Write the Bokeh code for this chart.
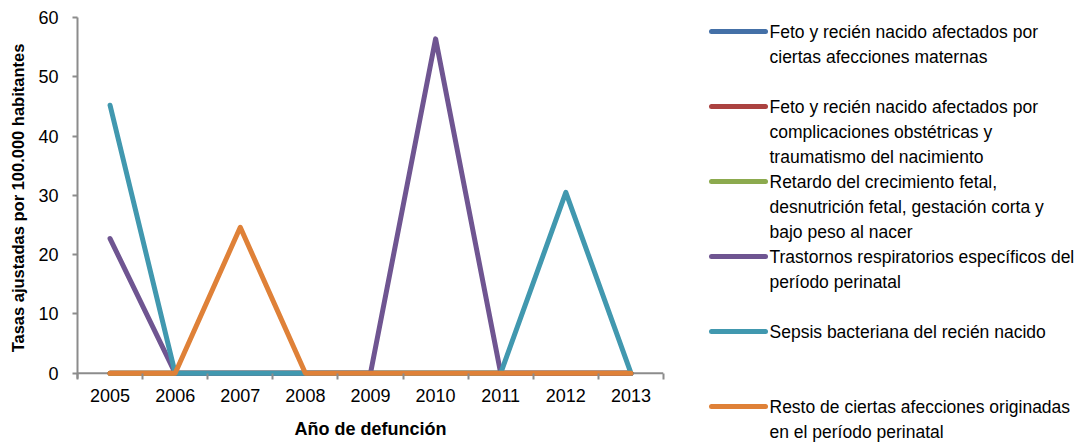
from bokeh.plotting import figure
from bokeh.layouts import row
from bokeh.models import Range1d, FixedTicker, ColumnDataSource, Span
from bokeh.core.properties import value
from bokeh.embed import file_html
from bokeh.resources import INLINE

# Tasas ajustadas por 100.000 habitantes, por año de defunción
years = [2005, 2006, 2007, 2008, 2009, 2010, 2011, 2012, 2013]
afecciones_maternas = [0, 0, 0, 0, 0, 0, 0, 0, 0]
complicaciones_obstetricas = [0, 0, 0, 0, 0, 0, 0, 0, 0]
retardo_crecimiento = [0, 0, 0, 0, 0, 0, 0, 0, 0]
trastornos_respiratorios = [22.7, 0, 0, 0, 0, 56.4, 0, 0, 0]
sepsis_bacteriana = [45.2, 0, 0, 0, 0, 0, 0, 30.5, 0]
resto_afecciones = [0, 0, 24.6, 0, 0, 0, 0, 0, 0]
y_ticks = [0, 10, 20, 30, 40, 50, 60]

series_labels = [
    "Feto y recién nacido afectados por\nciertas afecciones maternas",
    "Feto y recién nacido afectados por\ncomplicaciones obstétricas y\ntraumatismo del nacimiento",
    "Retardo del crecimiento fetal,\ndesnutrición fetal, gestación corta y\nbajo peso al nacer",
    "Trastornos respiratorios específicos del\nperíodo perinatal",
    "Sepsis bacteriana del recién nacido",
    "Resto de ciertas afecciones originadas\nen el período perinatal",
]
series_values = [afecciones_maternas, complicaciones_obstetricas, retardo_crecimiento,
                 trastornos_respiratorios, sepsis_bacteriana, resto_afecciones]
colors = ["#4470A7", "#AB4240", "#8CAA4E", "#6F5591", "#4198AF", "#DF8138"]

FONT = "Liberation Sans"
AXIS_COLOR = "#8C8C8C"

p = figure(width=690, height=442, output_backend="svg", toolbar_location=None,
           x_range=Range1d(2004.5, 2013.5), y_range=Range1d(-0.9, 60),
           min_border_left=77, min_border_right=27, min_border_top=17, min_border_bottom=64,
           frame_align=False)
p.outline_line_color = None
p.grid.grid_line_color = None
p.background_fill_color = "white"
p.border_fill_color = "white"

# horizontal axis line at zero, drawn beneath the series
p.add_layout(Span(location=0, dimension="width", line_color=AXIS_COLOR,
                  line_width=2, level="underlay"))

for vals, col in zip(series_values, colors):
    p.line(years, vals, line_color=col, line_width=5, line_cap="round", line_join="round")

boundaries = [y - 0.5 for y in years] + [years[-1] + 0.5]

xa = p.xaxis[0]
xa.ticker = FixedTicker(ticks=years, minor_ticks=boundaries)
xa.axis_line_color = None
xa.major_tick_out = 0
xa.major_tick_in = 0
xa.minor_tick_out = 1
xa.minor_tick_in = 5
xa.minor_tick_line_color = AXIS_COLOR
xa.minor_tick_line_width = 2
xa.major_label_standoff = 9
xa.major_label_text_font = FONT
xa.major_label_text_font_size = "18px"
xa.major_label_text_color = "black"
xa.axis_label = "Año de defunción"
xa.axis_label_text_font = FONT
xa.axis_label_text_font_style = "bold"
xa.axis_label_text_font_size = "18px"
xa.axis_label_text_color = "black"
xa.axis_label_standoff = 14

ya = p.yaxis[0]
ya.ticker = FixedTicker(ticks=y_ticks)
ya.minor_tick_line_color = None
ya.major_tick_out = 5
ya.major_tick_in = 0
ya.major_tick_line_color = AXIS_COLOR
ya.major_tick_line_width = 2
ya.axis_line_color = AXIS_COLOR
ya.axis_line_width = 2
ya.major_label_standoff = 14
ya.major_label_text_font = FONT
ya.major_label_text_font_size = "18px"
ya.major_label_text_color = "black"
ya.axis_label = "Tasas ajustadas por 100.000 habitantes"
ya.axis_label_text_font = FONT
ya.axis_label_text_font_style = "bold"
ya.axis_label_text_font_size = "16.5px"
ya.axis_label_text_color = "black"
ya.axis_label_standoff = 8

# Legend panel drawn in pixel space
leg = figure(width=389, height=442, output_backend="svg", toolbar_location=None,
             x_range=Range1d(0, 389), y_range=Range1d(442, 0),
             min_border=0, frame_align=False)
leg.outline_line_color = None
leg.grid.grid_line_color = None
leg.axis.visible = False

entry_top, entry_step, row_step = 31, 75, 25
for i, (label, col) in enumerate(zip(series_labels, colors)):
    y0 = entry_top + i * entry_step
    leg.segment(x0=[21], y0=[y0], x1=[75], y1=[y0], line_color=col, line_width=5, line_cap="round")
    lines = label.split("\n")
    src = ColumnDataSource(dict(x=[79] * len(lines),
                                y=[y0 + j * row_step for j in range(len(lines))],
                                t=lines))
    leg.text(x="x", y="y", text="t", source=src, text_font=value(FONT),
             text_font_size="17.5px", text_baseline="middle", text_align="left", text_color="black")

layout = row(p, leg)
open("out.html", "w").write(file_html(layout, INLINE))
